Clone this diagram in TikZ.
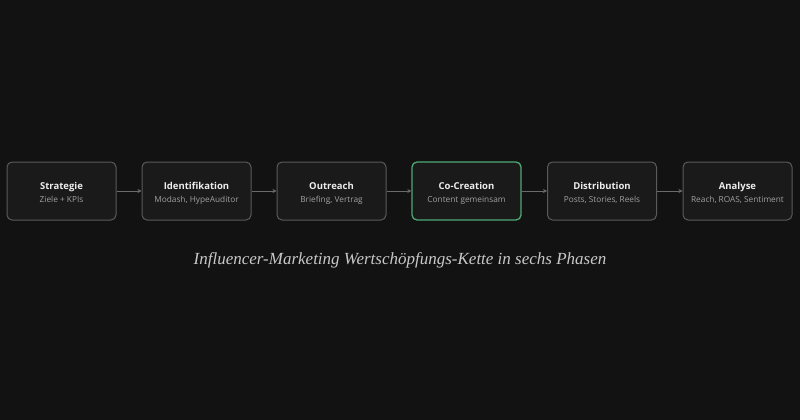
\documentclass[tikz,border=0pt]{standalone}
\usepackage{fontspec}
\setmainfont{Liberation Serif}
\setsansfont{Open Sans}
\usetikzlibrary{arrows.meta}
\definecolor{bg}{HTML}{121212}
\definecolor{boxfill}{HTML}{1A1A1A}
\definecolor{boxline}{HTML}{5A5A5A}
\definecolor{greenline}{HTML}{4FA874}
\definecolor{titlec}{HTML}{EDEDED}
\definecolor{subc}{HTML}{A0A0A0}
\definecolor{arrowc}{HTML}{6A6A6A}
\definecolor{capc}{HTML}{C8C8C8}
\tikzset{
  phase/.style={draw=boxline, line width=1pt, fill=boxfill, rounded corners=5pt,
    minimum width=109pt, minimum height=58pt, inner sep=0pt},
  hl/.style={draw=greenline, line width=1.3pt},
  ttl/.style={anchor=base, font=\sffamily\bfseries\fontsize{9.5}{11}\selectfont, text=titlec},
  sub/.style={anchor=base, font=\sffamily\fontsize{8.3}{10}\selectfont, text=subc},
  conn/.style={draw=arrowc, line width=0.9pt, -{Stealth[length=4pt,width=4pt]}},
}
\begin{document}
\begin{tikzpicture}[x=1pt,y=-1pt]
\fill[bg] (0,0) rectangle (800,420);
\useasboundingbox (0,0) rectangle (800,420);
\foreach \i/\t/\s/\x in {1/Strategie/{Ziele + KPIs}/61.5, 2/Identifikation/{Modash, HypeAuditor}/196.5, 3/Outreach/{Briefing, Vertrag}/331.5, 4/Co-Creation/{Content gemeinsam}/466.5, 5/Distribution/{Posts, Stories, Reels}/602, 6/Analyse/{Reach, ROAS, Sentiment}/737.5}{
  \ifnum\i=4
    \node[phase, hl] (p\i) at (\x,191) {};
  \else
    \node[phase] (p\i) at (\x,191) {};
  \fi
  \node[ttl] (t\i) at (\x,189) {\t};
  \node[sub] (s\i) at (\x,202) {\s};
}
\foreach \a/\b in {1/2,2/3,3/4,4/5,5/6}{
  \draw[conn] (p\a.east) -- (p\b.west);
}
\node[anchor=base, font=\itshape\fontsize{17}{19}\selectfont, text=capc] (cap) at (400,264) {Influencer-Marketing Wertschöpfungs-Kette in sechs Phasen};
\end{tikzpicture}
\end{document}
